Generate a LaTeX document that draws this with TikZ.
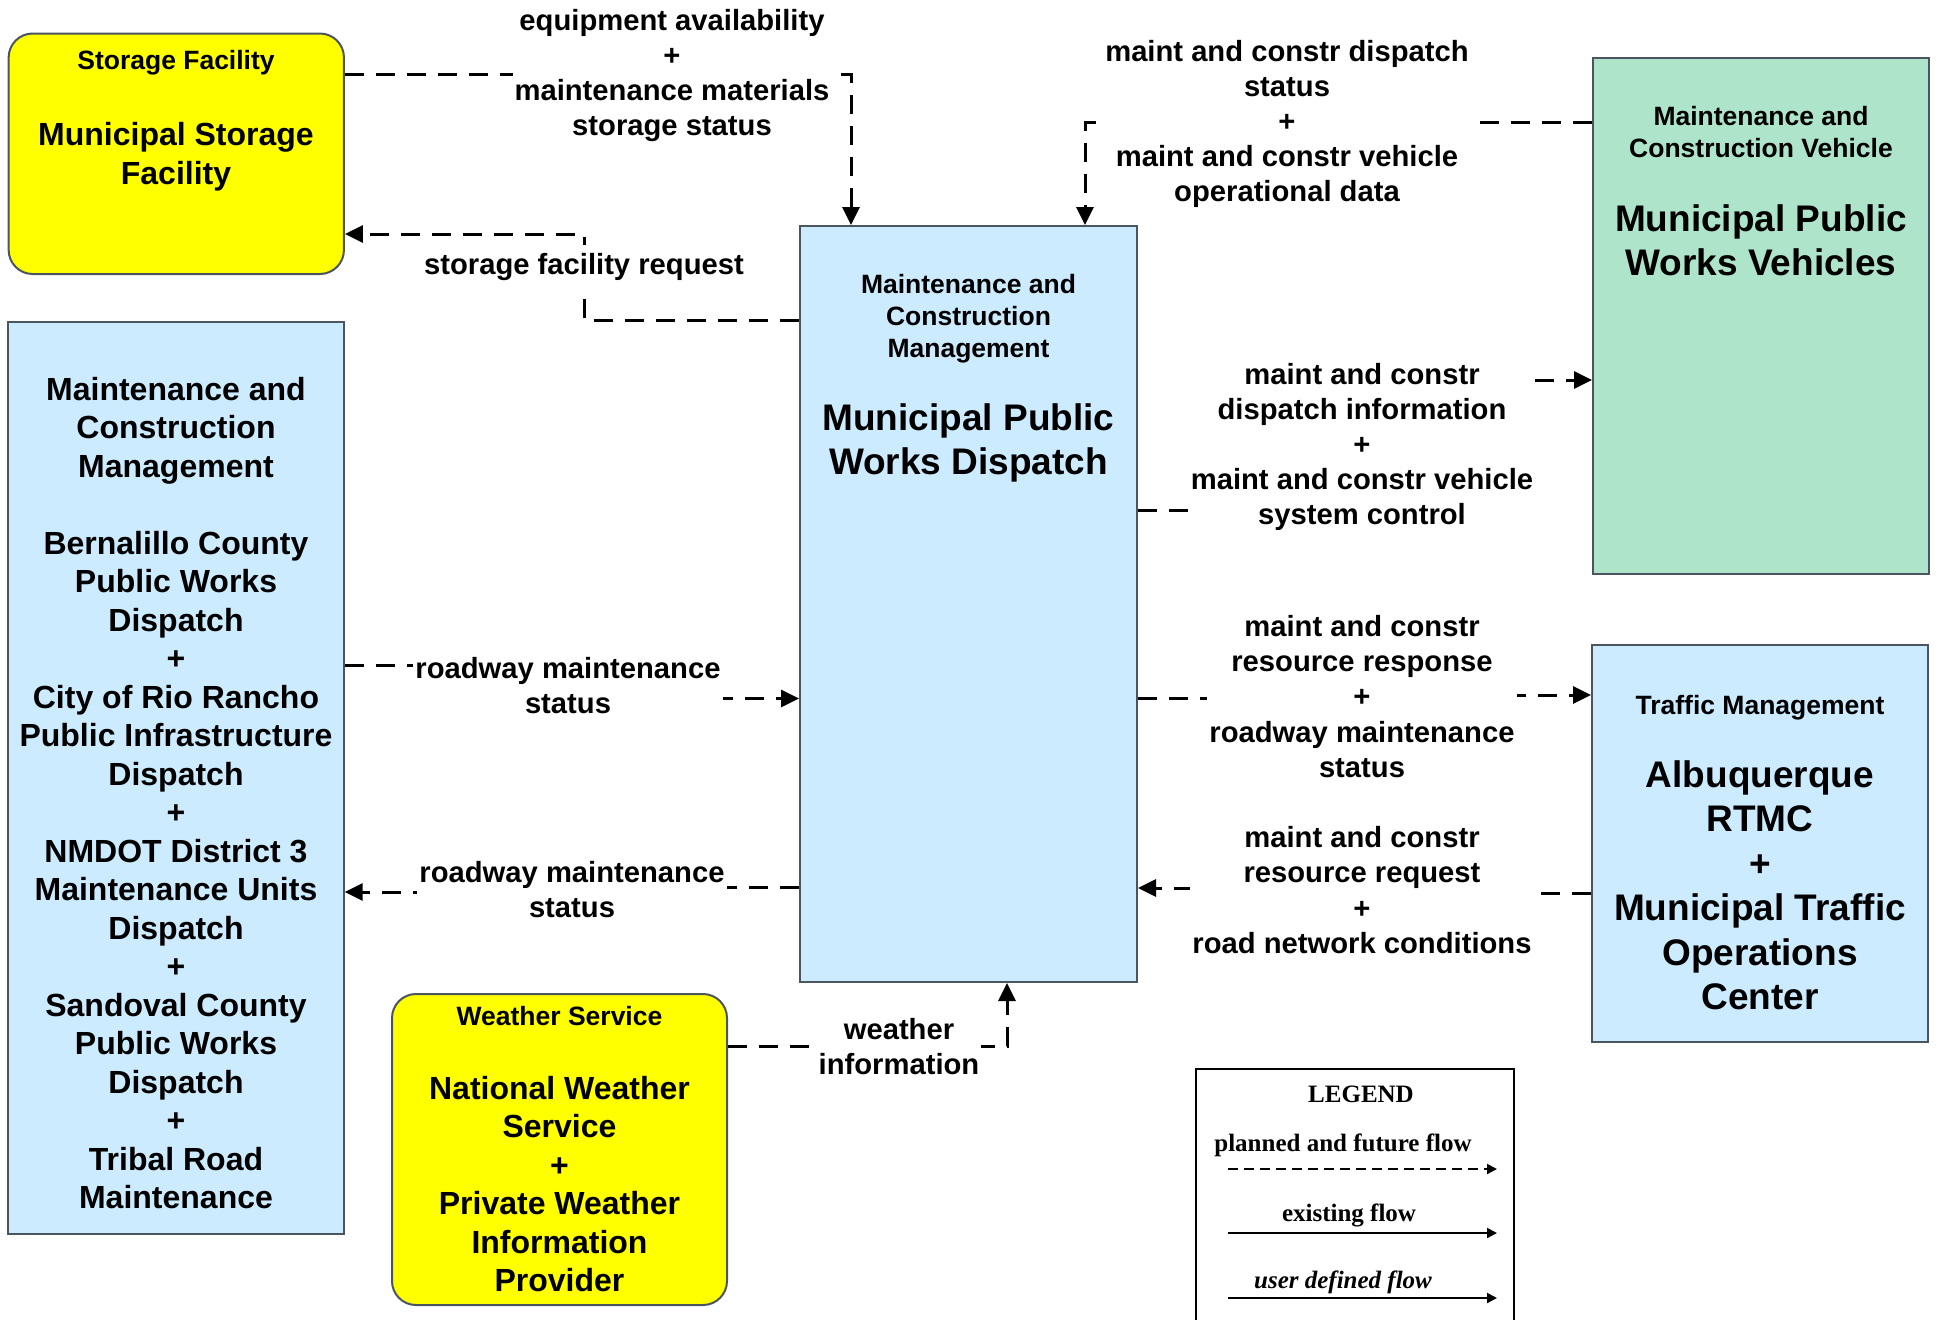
\documentclass[tikz,border=0pt]{standalone}
\usepackage{fontspec}
\setmainfont{Liberation Sans}
\newfontfamily\legfont{Liberation Serif}
\usetikzlibrary{arrows.meta}
\definecolor{ylw}{HTML}{FFFF00}
\definecolor{lblue}{HTML}{CCEBFF}
\definecolor{lgreen}{HTML}{AEE4C9}
\definecolor{bord}{HTML}{4A5560}
\begin{document}
\begin{tikzpicture}[x=0.5pt,y=-0.5pt,
  box/.style={draw=bord, line width=1pt, inner sep=0pt, anchor=center},
  flow/.style={line width=1.5pt, dash pattern=on 9.5pt off 6pt, -{Triangle[length=9pt,width=8.5pt]}},
  lbl/.style={fill=white, inner sep=1pt, align=center, font=\bfseries\fontsize{14.6pt}{17.6pt}\selectfont},
  hdr/.style={align=center, inner sep=0pt, font=\bfseries\fontsize{13.25pt}{16pt}\selectfont},
  bigA/.style={align=center, inner sep=0pt, font=\bfseries\fontsize{18.5pt}{22.25pt}\selectfont},
  bigB/.style={align=center, inner sep=0pt, font=\bfseries\fontsize{16pt}{19.25pt}\selectfont},
  legtxt/.style={inner sep=0pt, font=\legfont\bfseries\fontsize{12.5pt}{15pt}\selectfont},
  legarrow/.style={line width=1pt, -{Triangle[length=5pt,width=5pt]}}
]
\useasboundingbox (0,0) rectangle (1939,1319);

% boxes
\node[box, fill=ylw, rounded corners=12pt, minimum width=167.65pt, minimum height=120.25pt] (stor) at (176.3,153.75) {};
\node[box, fill=lblue, minimum width=168pt, minimum height=455.85pt] (left) at (175.7,777.85) {};
\node[box, fill=lblue, minimum width=168.5pt, minimum height=378pt] (disp) at (968.5,604) {};
\node[box, fill=lgreen, minimum width=168pt, minimum height=258pt] (veh) at (1761,316) {};
\node[box, fill=lblue, minimum width=168pt, minimum height=198.5pt] (tmc) at (1760,843.8) {};
\node[box, fill=ylw, rounded corners=12pt, minimum width=167.5pt, minimum height=155.5pt] (wx) at (559.5,1149.5) {};

% box texts
\node[hdr] (storH) at (176,63) {Storage Facility};
\node[bigB] (storN) at (176,156.5) {Municipal Storage\\Facility};
\node[hdr] (dispH) at (968.5,318.7) {Maintenance and\\Construction\\Management};
\node[bigA] (dispN) at (968.5,442.7) {Municipal Public\\Works Dispatch};
\node[hdr] (vehH) at (1761,132.5) {Maintenance and\\Construction Vehicle};
\node[bigA] (vehN) at (1761,240.5) {Municipal Public\\Works Vehicles};
\node[hdr] (tmcH) at (1760,707.3) {Traffic Management};
\node[bigA] (tmcN) at (1760,885.5) {Albuquerque\\RTMC\\+\\Municipal Traffic\\Operations\\Center};
\node[hdr] (wxH) at (559.5,1016.5) {Weather Service};
\node[bigB] (wxN) at (559.5,1184) {National Weather\\Service\\+\\Private Weather\\Information\\Provider};
\node[bigB] (leftN) at (176,793) {Maintenance and\\Construction\\Management\\\mbox{}\\Bernalillo County\\Public Works\\Dispatch\\+\\City of Rio Rancho\\Public Infrastructure\\Dispatch\\+\\NMDOT District 3\\Maintenance Units\\Dispatch\\+\\Sandoval County\\Public Works\\Dispatch\\+\\Tribal Road\\Maintenance};

% connectors
\draw[flow] (stor.east |- 0,74) -| (disp.north -| 851,0);
\draw[flow] (disp.west |- 0,320) -| (584,234) -- (stor.east |- 0,234);
\draw[flow] (veh.west |- 0,122.5) -| (disp.north -| 1085,0);
\draw[flow] (disp.east |- 0,510) -| (1367,380) -- (veh.west |- 0,380);
\draw[flow] (disp.east |- 0,698.5) -| (1367,695) -- (tmc.west |- 0,695);
\draw[flow] (tmc.west |- 0,893) -| (1367,888) -- (disp.east |- 0,888);
\draw[flow] (left.east |- 0,665) -| (568,698.5) -- (disp.west |- 0,698.5);
\draw[flow] (disp.west |- 0,887) -| (572,892) -- (left.east |- 0,892);
\draw[flow] (wx.east |- 0,1046) -| (disp.south -| 1007,0);

% connector labels
\node[lbl] (l1) at (672,75.5) {equipment availability\\+\\maintenance materials\\storage status};
\node[lbl, inner ysep=4.5pt] (l2) at (584,267.5) {storage facility request};
\node[lbl] (l3) at (1287,124) {maint and constr dispatch\\status\\+\\maint and constr vehicle\\operational data};
\node[lbl] (l4) at (1362,447) {maint and constr\\dispatch information\\+\\maint and constr vehicle\\system control};
\node[lbl] (l5) at (1362,696.5) {maint and constr\\resource response\\+\\roadway maintenance\\status};
\node[lbl] (l6) at (1362,890) {maint and constr\\resource request\\+\\road network conditions};
\node[lbl] (l7) at (568,685.5) {roadway maintenance\\status};
\node[lbl] (l8) at (572,889.5) {roadway maintenance\\status};
\node[lbl] (l9) at (899,1046.5) {weather\\information};

% legend
\draw[line width=0.7pt] (1196,1325) -- (1196,1069) -- (1514,1069) -- (1514,1325);
\node[legtxt] (legT) at (1361,1094) {LEGEND};
\node[legtxt] (leg1) at (1343,1145) {planned and future flow};
\node[legtxt] (leg2) at (1349,1215) {existing flow};
\node[legtxt] (leg3) at (1343,1282) {\itshape user defined flow};
\coordinate (lg1a) at (1228,1169); \coordinate (lg1b) at (1497,1169);
\coordinate (lg2a) at (1228,1233); \coordinate (lg2b) at (1497,1233);
\coordinate (lg3a) at (1228,1298); \coordinate (lg3b) at (1497,1298);
\draw[legarrow, dash pattern=on 5pt off 3pt] (lg1a) -- (lg1b);
\draw[legarrow] (lg2a) -- (lg2b);
\draw[legarrow] (lg3a) -- (lg3b);
\end{tikzpicture}
\end{document}
